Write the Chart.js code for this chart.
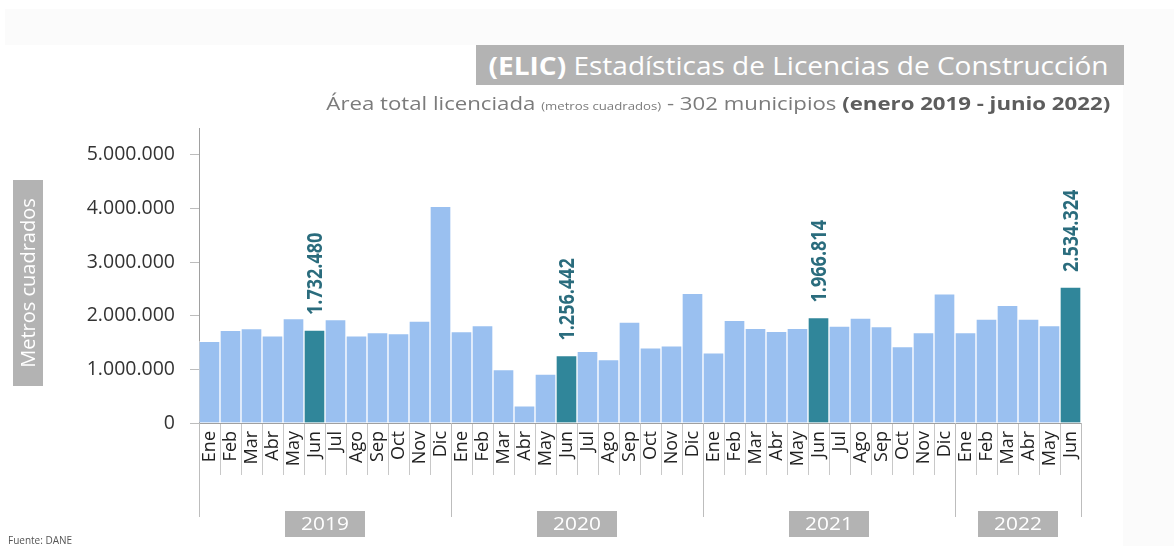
<!DOCTYPE html>
<html>
<head>
<meta charset="utf-8">
<script src="https://cdn.jsdelivr.net/npm/chart.js@4/dist/chart.umd.min.js"></script>
<style>
  html,body{margin:0;padding:0;background:#fff;}
  body{width:1174px;height:546px;position:relative;overflow:hidden;font-family:"Open Sans",sans-serif;}
  #bgTop{position:absolute;left:5px;top:9px;width:1169px;height:36px;background:#fbfbfb;}
  #bgRight{position:absolute;left:1123px;top:9px;width:51px;height:537px;background:#fbfbfb;}
  #wrap{position:absolute;left:0;top:0;width:1174px;height:546px;}
  #title{position:absolute;left:476px;top:45px;width:648px;height:40px;background:#b3b3b3;color:#fff;
    font-size:25px;line-height:40px;text-align:right;box-sizing:border-box;padding-right:16px;white-space:nowrap;}
  #title span{display:inline-block;transform:scaleX(1.12);transform-origin:right center;}
  #title b{font-weight:700;}
  #subtitle{position:absolute;right:64px;top:90px;font-size:18.5px;color:#7b7b7b;white-space:nowrap;}
  #subtitle span.s{display:inline-block;transform:scaleX(1.2);transform-origin:right center;}
  #subtitle small{font-size:11px;}
  #subtitle b{color:#5d5d5d;font-weight:700;}
</style>
</head>
<body>
<div id="bgTop"></div>
<div id="bgRight"></div>
<div id="wrap"><canvas id="c" width="1174" height="546"></canvas></div>
<div id="title"><span><b>(ELIC)</b> Estadísticas de Licencias de Construcción</span></div>
<div id="subtitle"><span class="s">Área total licenciada <small>(metros cuadrados)</small> - 302 municipios <b>(enero 2019 - junio 2022)</b></span></div>
<script>
const months = ["Ene","Feb","Mar","Abr","May","Jun","Jul","Ago","Sep","Oct","Nov","Dic",
  "Ene","Feb","Mar","Abr","May","Jun","Jul","Ago","Sep","Oct","Nov","Dic",
  "Ene","Feb","Mar","Abr","May","Jun","Jul","Ago","Sep","Oct","Nov","Dic",
  "Ene","Feb","Mar","Abr","May","Jun"];
const years = ["2019","2020","2021","2022"];
const yearStart = [0,12,24,36];
const yearEnd = [12,24,36,42];
const areaValues = [
  1524000,1729000,1760000,1623000,1946000,1732480,1927000,1623000,1686000,1667000,1902000,4040000,
  1704000,1814000,998000,322000,911000,1256442,1338000,1184000,1883000,1400000,1437000,2416000,
  1307000,1914000,1766000,1710000,1766000,1966814,1809000,1958000,1797000,1425000,1686000,2410000,
  1686000,1939000,2193000,1939000,1816000,2534324];
const highlightIdx = [5,17,29,41];
const yTicks = [0,1000000,2000000,3000000,4000000,5000000];

const LIGHT = "#9ac0f0", DARK = "#30869a", LABEL = "#2a6c7d";

function fmt(v){ return String(Math.round(v)).replace(/\B(?=(\d{3})+(?!\d))/g, "."); }

const barColors = areaValues.map((v,i)=> highlightIdx.includes(i) ? DARK : LIGHT);

const decor = {
  id:"decor",
  afterDraw(chart){
    const ctx = chart.ctx, xs = chart.scales.x, ca = chart.chartArea;
    const half = (xs.getPixelForValue(1) - xs.getPixelForValue(0))/2;
    ctx.save();
    ctx.strokeStyle = "#bdbdbd"; ctx.lineWidth = 1;
    const bounds = yearStart.concat([yearEnd[yearEnd.length-1]]);
    bounds.forEach(b=>{
      const x = Math.round(xs.getPixelForValue(b) - half) + 0.5;
      ctx.beginPath(); ctx.moveTo(x, ca.bottom); ctx.lineTo(x, ca.bottom + 94); ctx.stroke();
    });
    ctx.font = "19px 'Open Sans'";
    ctx.textAlign = "center"; ctx.textBaseline = "middle";
    years.forEach((y,i)=>{
      const x0 = xs.getPixelForValue(yearStart[i]) - half;
      const x1 = xs.getPixelForValue(yearEnd[i]-1) + half;
      const cx = (x0+x1)/2;
      ctx.fillStyle = "#b3b3b3";
      ctx.fillRect(cx-40, ca.bottom + 88, 80, 26);
      ctx.fillStyle = "#ffffff";
      ctx.save();
      ctx.translate(cx, ca.bottom + 101.5);
      ctx.scale(1.1, 1);
      ctx.fillText(y, 0, 0);
      ctx.restore();
    });
    ctx.fillStyle = "#b3b3b3";
    ctx.fillRect(13, 180, 30, 206);
    ctx.translate(28, 283); ctx.rotate(-Math.PI/2);
    ctx.fillStyle = "#fff"; ctx.font = "20px 'Open Sans'";
    ctx.fillText("Metros cuadrados", 0, 1);
    ctx.restore();
    ctx.save();
    ctx.fillStyle = "#555"; ctx.font = "10px 'Open Sans'";
    ctx.textAlign = "left"; ctx.textBaseline = "alphabetic";
    ctx.fillText("Fuente: DANE", 8, 544);
    ctx.restore();
  },
  afterDatasetsDraw(chart){
    const ctx = chart.ctx, meta = chart.getDatasetMeta(0);
    ctx.save();
    ctx.fillStyle = LABEL;
    ctx.font = "bold 22px 'Open Sans'";
    ctx.textAlign = "left"; ctx.textBaseline = "middle";
    highlightIdx.forEach(i=>{
      const el = meta.data[i];
      ctx.save();
      ctx.translate(el.x + 1, el.y - 15);
      ctx.rotate(-Math.PI/2);
      ctx.scale(0.82, 1);
      ctx.fillText(fmt(areaValues[i]), 0, 0);
      ctx.restore();
    });
    ctx.restore();
  }
};

new Chart(document.getElementById("c"), {
  type:"bar",
  data:{
    labels: months,
    datasets:[{
      data: areaValues,
      backgroundColor: barColors,
      borderColor: "rgba(255,255,255,0.45)",
      borderWidth: 1,
      barPercentage: 1,
      categoryPercentage: 1
    }]
  },
  options:{
    responsive:false,
    animation:false,
    layout:{padding:{top:128,right:93,left:0,bottom:0}},
    plugins:{legend:{display:false},tooltip:{enabled:false},title:{display:false}},
    scales:{
      x:{
        offset:true,
        grid:{offset:true,drawOnChartArea:false,drawTicks:true,tickLength:52,color:"#c8c8c8"},
        border:{color:"#a0a0a0"},
        ticks:{minRotation:90,maxRotation:90,autoSkip:false,padding:-44,color:"#222",
          font:{family:"'Open Sans'",size:18}},
        afterFit(s){ s.height = 123; }
      },
      y:{
        min:0,max:5500000,
        grid:{drawOnChartArea:false,drawTicks:true,tickLength:9,color:"#bdbdbd"},
        border:{color:"#a0a0a0"},
        afterBuildTicks(s){ s.ticks = yTicks.map(v=>({value:v})); },
        ticks:{padding:15,color:"#333",font:{family:"'Open Sans'",size:19.5},
          callback:(v)=>fmt(v)},
        afterFit(s){ s.width = 199; }
      }
    }
  },
  plugins:[decor]
});
</script>
</body>
</html>
